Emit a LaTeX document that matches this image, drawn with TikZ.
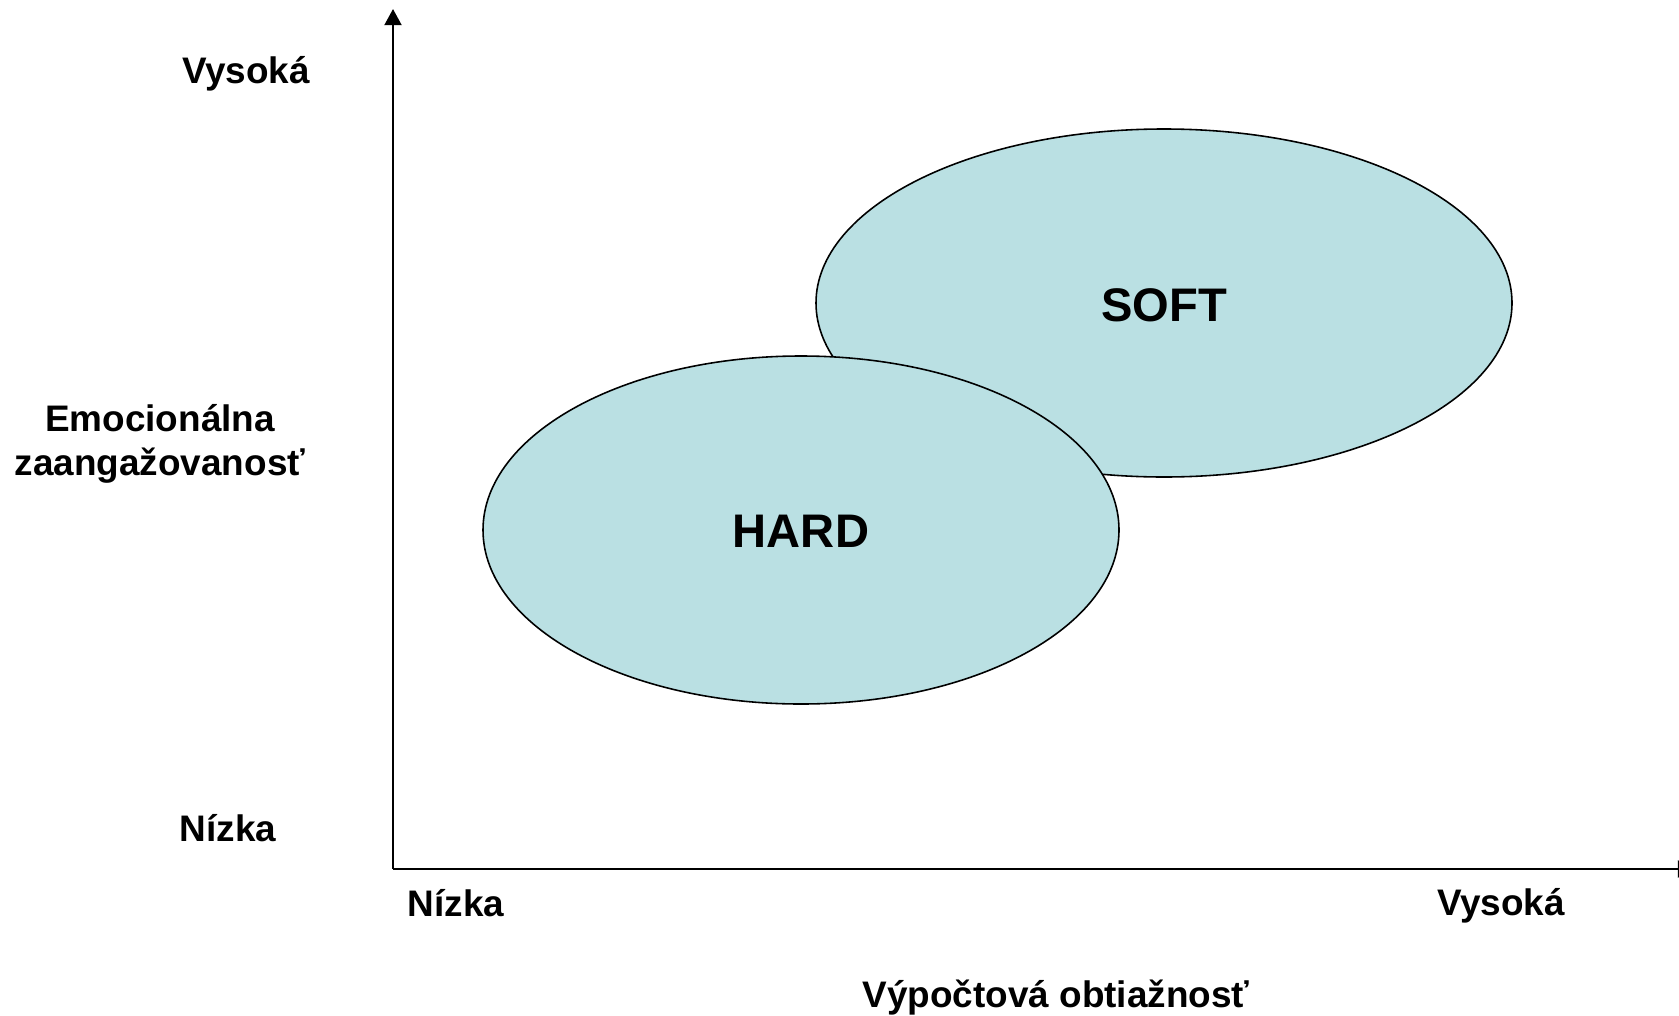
\documentclass[tikz,border=0pt]{standalone}
\usepackage{fontspec}
\setmainfont{Liberation Sans}
\usetikzlibrary{arrows.meta}
\definecolor{blobfill}{HTML}{BAE0E3}
\tikzset{
  lbl/.style={font=\bfseries\fontsize{10.5pt}{12.5pt}\selectfont, inner sep=0pt},
  big/.style={font=\bfseries\fontsize{13.4pt}{16pt}\selectfont, inner sep=0pt},
  blob/.style={draw=black, line width=0.45pt, fill=blobfill},
  axis/.style={line width=0.7pt, -{Triangle[width=4.8pt,length=4.6pt]}}
}
\begin{document}
\begin{tikzpicture}[x=0.01cm, y=-0.01cm]
\useasboundingbox (0,0) rectangle (1679,1015);
\coordinate (o) at (393,869);
\coordinate (ytop) at (393,9);
\coordinate (xend) at (1694,869);
\draw[axis] (o) -- (ytop);
\draw[axis] (o) -- (xend);
\draw[blob] (1164,303) ellipse [x radius=348, y radius=174];
\draw[blob] (801,530) ellipse [x radius=318, y radius=174];
\node[big] (soft) at (1164,305) {SOFT};
\node[big] (hard) at (801,531) {HARD};
\node[lbl] (yhigh) at (246,74) {Vysoká};
\node[lbl, align=center] (ylab) at (160,444) {Emocionálna\\zaangažovanosť};
\node[lbl] (ylow) at (228,828) {Nízka};
\node[lbl] (xlow) at (456,903) {Nízka};
\node[lbl] (xhigh) at (1501,906) {Vysoká};
\node[lbl] (xlab) at (1056,998) {Výpočtová obtiažnosť};
\end{tikzpicture}
\end{document}
